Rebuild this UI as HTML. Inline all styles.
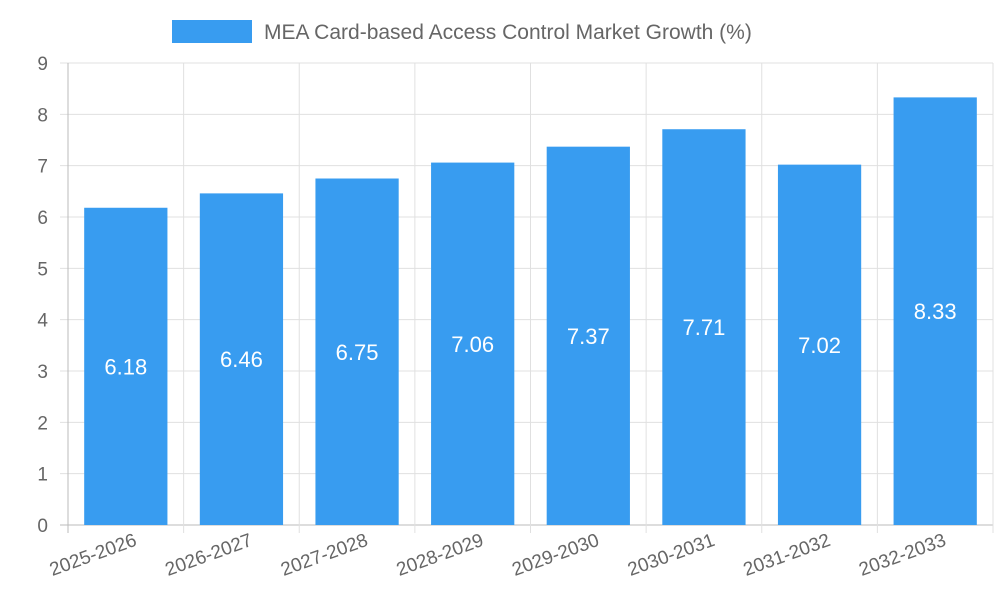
<!DOCTYPE html>
<html><head><meta charset="utf-8"><style>
html,body{margin:0;padding:0;background:#fff;}
svg{display:block;font-family:"Liberation Sans",sans-serif;}
</style></head><body>
<svg id="chart" width="1000" height="600" xmlns="http://www.w3.org/2000/svg">
<g>
<rect x="172" y="20" width="80" height="23" fill="#389cf0"/>
<text x="264" y="39" font-size="21" fill="#666">MEA Card-based Access Control Market Growth (%)</text>
</g>
<g id="grid"></g>
<g id="bars"></g>
<g id="yaxis"></g>
<g id="xaxis"></g>
</svg>
<script>
const categories=["2025-2026","2026-2027","2027-2028","2028-2029","2029-2030","2030-2031","2031-2032","2032-2033"];
const values=[6.18,6.46,6.75,7.06,7.37,7.71,7.02,8.33];
const yTicks=[0,1,2,3,4,5,6,7,8,9];
const L=68,R=993,T=63,B=525,yMax=9;
const NS="http://www.w3.org/2000/svg";
const y=v=>B-(v/yMax)*(B-T);
const cw=(R-L)/categories.length;
const x=i=>L+i*cw;
function mk(tag,attrs,parent,text){const e=document.createElementNS(NS,tag);for(const k in attrs)e.setAttribute(k,attrs[k]);if(text!==undefined)e.textContent=text;document.getElementById(parent).appendChild(e);return e;}
yTicks.forEach(t=>{
 const g=mk('line',{x1:L-8,x2:R,y1:y(t),y2:y(t),stroke:t===0?'#bbb':'#e0e0e0','stroke-width':1},'grid');
 
 
 const l=mk('text',{x:L-20,y:y(t)+7,'text-anchor':'end','font-size':19,fill:'#666'},'yaxis',String(t));
 
 
});
for(let i=0;i<=categories.length;i++){
 const g=mk('line',{x1:x(i),x2:x(i),y1:T,y2:B+8,stroke:i===0?'#bbb':'#e0e0e0','stroke-width':1},'grid');
 
 
}
const bw=cw*0.72;
categories.forEach((c,i)=>{
 const cx=x(i)+cw/2;
 const b=mk('rect',{x:cx-bw/2,y:y(values[i]),width:bw,height:B-y(values[i]),fill:'#389cf0'},'bars');
 
 
 const v=mk('text',{x:cx,y:(y(values[i])+B)/2+8,'text-anchor':'middle','font-size':22,fill:'#fff'},'bars',values[i].toFixed(2));
 
 
 const t=mk('text',{x:cx+12,y:B+20,'text-anchor':'end','font-size':19,fill:'#666',transform:`rotate(-20 ${cx+12} ${B+20})`},'xaxis',c);
 
 
});
</script>
</body></html>
